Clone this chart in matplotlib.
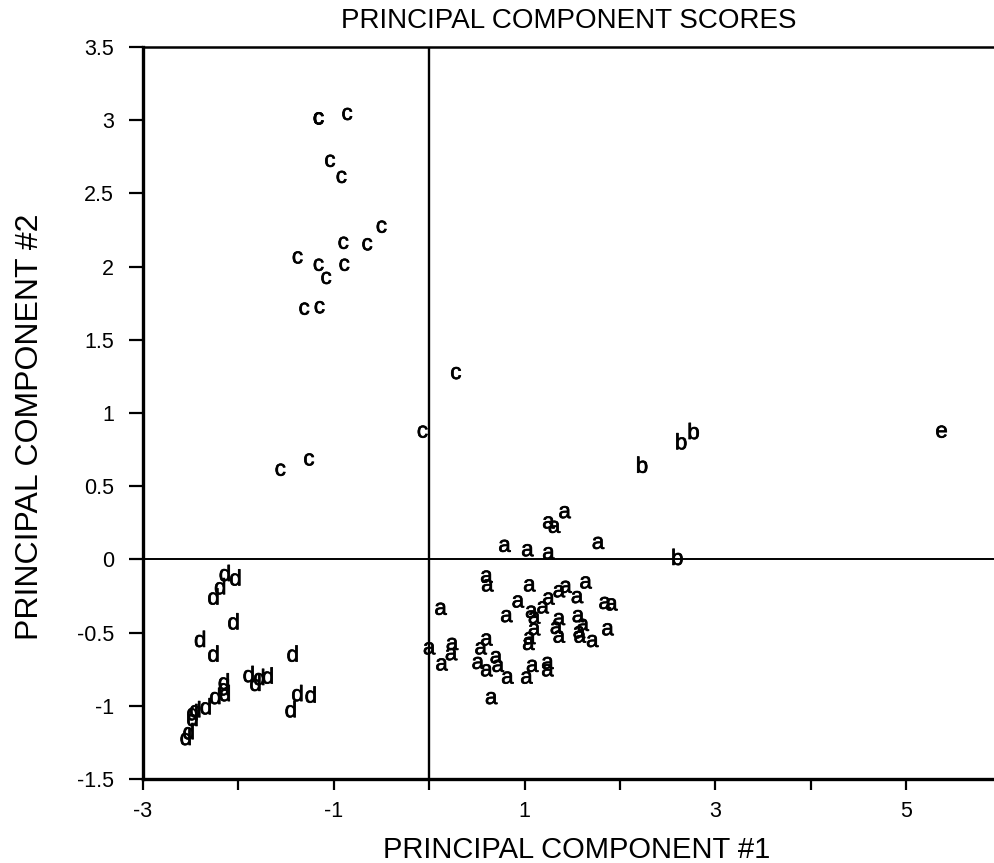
import matplotlib
matplotlib.use("Agg")
import matplotlib.pyplot as plt
import matplotlib.patheffects as pe
from matplotlib.ticker import MultipleLocator, FuncFormatter

plt.rcParams["font.family"] = ["Liberation Sans", "DejaVu Sans"]
plt.rcParams["axes.unicode_minus"] = False

# Principal component scores, grouped by class label
a_pc1 = [1.42, 1.25, 1.31, 0.79, 1.03, 1.25, 1.77, 0.60, 0.61, 1.05, 1.64, 1.43,
         1.36, 1.55, 1.25, 0.93, 0.12, 1.19, 1.07, 1.10, 1.84, 1.91, 0.81, 1.36,
         1.56, 1.61, 1.10, 1.33, 1.87, 1.36, 1.57, 1.58, 1.71, 1.05, 1.04, 0.60,
         0.54, 0.24, 0.23, 0.00, 0.13, 0.70, 0.72, 0.51, 0.60, 0.82, 1.02, 1.08,
         1.24, 1.24, 0.65]
a_pc2 = [0.32, 0.25, 0.22, 0.09, 0.06, 0.04, 0.11, -0.12, -0.18, -0.18, -0.16, -0.19,
         -0.22, -0.26, -0.27, -0.29, -0.34, -0.33, -0.36, -0.40, -0.30, -0.31, -0.39, -0.41,
         -0.39, -0.45, -0.48, -0.47, -0.48, -0.53, -0.50, -0.53, -0.56, -0.54, -0.58, -0.55,
         -0.61, -0.58, -0.65, -0.61, -0.72, -0.67, -0.73, -0.71, -0.76, -0.81, -0.81, -0.73,
         -0.71, -0.76, -0.95]

b_pc1 = [2.60, 2.23, 2.64, 2.77]
b_pc2 = [0.00, 0.63, 0.79, 0.86]

c_pc1 = [-1.16, -1.16, -0.86, -1.04, -0.92, -0.50, -0.90, -0.65, -1.38, -1.16,
         -0.89, -1.08, -1.31, -1.15, 0.28, -0.07, -1.26, -1.56]
c_pc2 = [3.01, 3.01, 3.04, 2.72, 2.61, 2.27, 2.16, 2.15, 2.06, 2.01,
         2.01, 1.92, 1.71, 1.72, 1.27, 0.87, 0.68, 0.61]

d_pc1 = [-2.14, -2.03, -2.19, -2.26, -2.05, -2.40, -2.26, -1.43, -1.89, -1.82,
         -1.78, -1.69, -2.15, -2.15, -2.14, -2.24, -2.34, -2.45, -2.48, -2.48,
         -1.38, -1.24, -1.45, -2.52, -2.55]
d_pc2 = [-0.11, -0.14, -0.20, -0.27, -0.44, -0.56, -0.66, -0.66, -0.80, -0.86,
         -0.82, -0.81, -0.85, -0.89, -0.93, -0.95, -1.02, -1.04, -1.06, -1.10,
         -0.93, -0.94, -1.04, -1.19, -1.23]

e_pc1 = [5.37]
e_pc2 = [0.87]

groups = [("a", a_pc1, a_pc2), ("b", b_pc1, b_pc2), ("c", c_pc1, c_pc2),
          ("d", d_pc1, d_pc2), ("e", e_pc1, e_pc2)]

title = "PRINCIPAL COMPONENT SCORES"
xlabel = "PRINCIPAL COMPONENT #1"
ylabel = "PRINCIPAL COMPONENT #2"

fig = plt.figure(figsize=(9.95, 8.63), dpi=100)
ax = fig.add_axes([0.1437, 0.0973, 0.8563, 0.8482])

ax.set_xlim(-3, 5.93)
ax.set_ylim(-1.5, 3.5)

# each observation is drawn as its class letter
thicken = [pe.withStroke(linewidth=0.5, foreground="black")]
for letter, xs, ys in groups:
    for x, y in zip(xs, ys):
        ax.text(x, y, letter, ha="center", va="center", fontsize=16,
                color="black", zorder=3, path_effects=thicken)

ax.axvline(0, color="black", lw=1.7, zorder=2)
ax.axhline(0, color="black", lw=1.4, zorder=2)

ax.spines["right"].set_visible(False)
ax.spines["left"].set_linewidth(2.4)
ax.spines["bottom"].set_linewidth(2.4)
ax.spines["top"].set_linewidth(1.8)

ax.xaxis.set_major_locator(MultipleLocator(1))
ax.yaxis.set_major_locator(MultipleLocator(0.5))
ax.xaxis.set_major_formatter(FuncFormatter(lambda v, p: f"{v:g}" if round(v) % 2 else ""))
ax.yaxis.set_major_formatter(FuncFormatter(lambda v, p: f"{v:g}"))
ax.tick_params(axis="x", direction="out", length=8, width=1.6, labelsize=15.5, pad=8)
ax.tick_params(axis="y", direction="out", length=10, width=1.6, labelsize=15.5, pad=11)

fig.text(569 / 995, 1 - 21 / 863, title, ha="center", va="center", fontsize=20)
fig.text(577 / 995, 1 - 850 / 863, xlabel, ha="center", va="center", fontsize=21)
fig.text(30 / 995, 1 - 427 / 863, ylabel, ha="center", va="center", fontsize=23,
         rotation=90)

fig.savefig("out.png", dpi=100)
